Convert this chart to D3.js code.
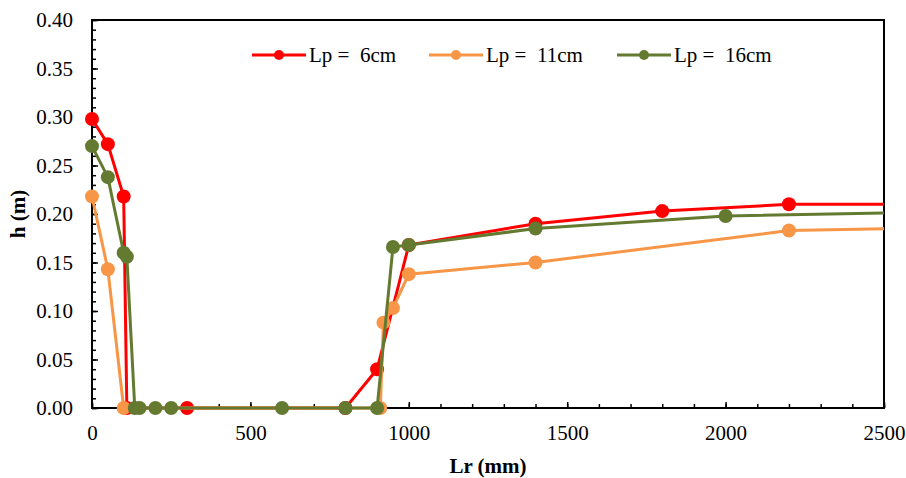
<!DOCTYPE html>
<html>
<head>
<meta charset="utf-8">
<script src="https://cdn.jsdelivr.net/npm/d3@7"></script>
<style>
  body { margin: 0; background: #fff; }
  text { font-family: "Liberation Serif", "Times New Roman", serif; white-space: pre; }
</style>
</head>
<body>
<div id="chart"></div>
<script>
const width = 906, height = 478;

// data (Lr in mm, h in m)
const seriesNames = ["Lp =  6cm", "Lp =  11cm", "Lp =  16cm"];
const seriesColors = ["#ff0000", "#f79646", "#637a30"];

const lp6 = [
    [0, 0.298], [50, 0.272], [100, 0.218], [110, 0], [300, 0], [800, 0],
    [900, 0.040], [1000, 0.168], [1400, 0.190], [1800, 0.203], [2200, 0.210], [3000, 0.210]
];
const lp11 = [
    [0, 0.218], [50, 0.143], [100, 0], [910, 0], [920, 0.088], [950, 0.103],
    [1000, 0.138], [1400, 0.150], [2200, 0.183], [3000, 0.188]
];
const lp16 = [
    [0, 0.270], [50, 0.238], [100, 0.160], [110, 0.156], [135, 0], [150, 0],
    [200, 0], [250, 0], [600, 0], [800, 0], [900, 0], [950, 0.166],
    [1000, 0.168], [1400, 0.185], [2000, 0.198], [3000, 0.204]
];

const xTicks = [0, 500, 1000, 1500, 2000, 2500];
const yTicks = [0, 0.05, 0.10, 0.15, 0.20, 0.25, 0.30, 0.35, 0.40];

const margin = {top: 20, right: 22, bottom: 70, left: 92};

let x = d3.scaleLinear()
    .domain([0, 2500])
    .range([margin.left, width - margin.right]);

let y = d3.scaleLinear()
    .domain([0, 0.40])
    .range([height - margin.bottom, margin.top]);

let svg = d3.select("#chart").append("svg")
    .attr("width", width)
    .attr("height", height);

svg.append("defs").append("clipPath")
    .attr("id", "plotclip")
  .append("rect")
    .attr("x", x(0) - 10)
    .attr("y", 0)
    .attr("width", x(2500) - x(0) + 10)
    .attr("height", height);

// minor ticks (inside)
let xMinor = d3.range(0, 2501, 100);
let yMinor = d3.range(0, 41, 1).map(d => d / 100);

svg.append("g")
    .attr("transform", `translate(0,${y(0)})`)
    .call(d3.axisBottom(x).tickValues(xMinor).tickSize(-4).tickFormat(""))
    .call(g => g.select(".domain").remove())
    .call(g => g.selectAll("line").attr("stroke", "#000").attr("stroke-width", 1.5));

svg.append("g")
    .attr("transform", `translate(${x(0)},0)`)
    .call(d3.axisLeft(y).tickValues(yMinor).tickSize(-4).tickFormat(""))
    .call(g => g.select(".domain").remove())
    .call(g => g.selectAll("line").attr("stroke", "#000").attr("stroke-width", 1.5));

// major axes
svg.append("g")
    .attr("transform", `translate(0,${y(0)})`)
    .call(d3.axisBottom(x).tickValues(xTicks).tickSize(-6).tickPadding(17).tickSizeOuter(0)
        .tickFormat(d3.format("d")))
    .call(g => g.select(".domain").remove())
    .call(g => g.selectAll("line").attr("stroke", "#000").attr("stroke-width", 1.5))
    .call(g => g.selectAll("text")
        .attr("font-family", "Liberation Serif")
        .attr("font-size", 21)
        .attr("fill", "#000"));

svg.append("g")
    .attr("transform", `translate(${x(0)},0)`)
    .call(d3.axisLeft(y).tickValues(yTicks).tickSize(-6).tickPadding(19).tickSizeOuter(0)
        .tickFormat(d3.format(".2f")))
    .call(g => g.select(".domain").remove())
    .call(g => g.selectAll("line").attr("stroke", "#000").attr("stroke-width", 1.5))
    .call(g => g.selectAll("text")
        .attr("font-family", "Liberation Serif")
        .attr("font-size", 21)
        .attr("fill", "#000"));

// plot frame
svg.append("rect")
    .attr("x", x(0))
    .attr("y", y(0.40))
    .attr("width", x(2500) - x(0))
    .attr("height", y(0) - y(0.40))
    .attr("fill", "none")
    .attr("stroke", "#000")
    .attr("stroke-width", 2);

// axis titles
svg.append("text")
    .attr("x", (x(0) + x(2500)) / 2)
    .attr("y", 473)
    .attr("text-anchor", "middle")
    .attr("font-weight", "bold")
    .attr("font-size", 21)
    .text("Lr (mm)");

svg.append("text")
    .attr("transform", `translate(25,${(y(0) + y(0.40)) / 2}) rotate(-90)`)
    .attr("text-anchor", "middle")
    .attr("font-weight", "bold")
    .attr("font-size", 21)
    .text("h (m)");

// series
let line = d3.line()
    .x(d => x(d[0]))
    .y(d => y(d[1]));

let allSeries = [lp6, lp11, lp16];

allSeries.forEach((data, i) => {
    let g = svg.append("g");
    g.append("path")
        .datum(data)
        .attr("clip-path", "url(#plotclip)")
        .attr("fill", "none")
        .attr("stroke", seriesColors[i])
        .attr("stroke-width", 3)
        .attr("stroke-linejoin", "round")
        .attr("d", line);
    g.selectAll("circle")
        .data(data.filter(d => d[0] <= 2500))
        .join("circle")
            .attr("cx", d => x(d[0]))
            .attr("cy", d => y(d[1]))
            .attr("r", 7)
            .attr("fill", seriesColors[i]);
});

// legend
let legendX = [252, 429, 617];
let legend = svg.append("g");
seriesNames.forEach((name, i) => {
    let lx = legendX[i];
    legend.append("line")
        .attr("x1", lx).attr("x2", lx + 54)
        .attr("y1", 55).attr("y2", 55)
        .attr("stroke", seriesColors[i])
        .attr("stroke-width", 3);
    legend.append("circle")
        .attr("cx", lx + 27).attr("cy", 55)
        .attr("r", 5)
        .attr("fill", seriesColors[i]);
    legend.append("text")
        .attr("x", lx + 57)
        .attr("y", 62)
        .attr("font-size", 21)
        .text(name);
});
</script>
</body>
</html>
